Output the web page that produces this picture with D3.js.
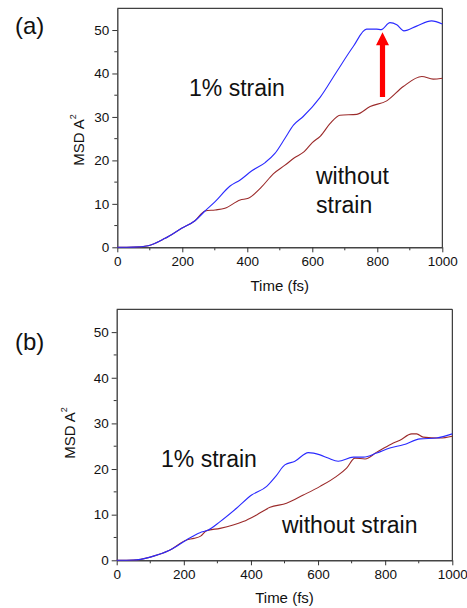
<!DOCTYPE html>
<html>
<head>
<meta charset="utf-8">
<script src="https://cdn.jsdelivr.net/npm/d3@7"></script>
<style>
  body { margin: 0; background: #fff; }
  text { font-family: Arial, "Liberation Sans", sans-serif; fill: #111; }
</style>
</head>
<body>
<svg id="chart" width="467" height="608"></svg>
<script>
// values (time in fs, MSD in A^2)
const aStrainT = [0, 50, 95, 147, 198, 239, 270, 301, 347, 378, 414, 455, 485, 516, 542, 572, 624, 675, 726, 767, 798, 812, 839, 860, 882, 921, 967, 1000]
const aStrainV = [0, 0.05, 0.37, 2.07, 4.37, 6.1, 8.35, 10.5, 14.1, 15.5, 17.6, 19.5, 21.6, 25.1, 28.1, 30.1, 34.5, 40.4, 46.2, 50.2, 50.2, 50.1, 51.7, 51.2, 49.8, 50.9, 52.1, 51.4]

const aPlainT = [0, 50, 95, 147, 198, 239, 270, 301, 331, 378, 403, 444, 480, 516, 545, 575, 600, 625, 655, 685, 737, 778, 829, 880, 937, 972, 1000]
const aPlainV = [0, 0.05, 0.37, 2.07, 4.37, 6.1, 8.35, 8.6, 8.97, 10.9, 11.3, 13.9, 16.9, 18.9, 20.6, 22.0, 24.1, 25.6, 28.5, 30.4, 30.6, 32.4, 33.7, 37.0, 39.3, 38.7, 38.9]

const bStrainT = [0, 50, 100, 159, 208, 248, 273, 308, 357, 402, 447, 475, 501, 531, 571, 606, 630, 660, 705, 735, 775, 814, 854, 904, 953, 1000]
const bStrainV = [0, 0.05, 0.7, 2.26, 4.46, 6.06, 6.65, 8.48, 11.4, 14.3, 16.2, 18.5, 20.9, 21.7, 23.6, 23.1, 22.4, 21.7, 22.6, 22.6, 23.5, 24.6, 25.3, 26.6, 26.8, 27.7]

const bPlainT = [0, 50, 100, 159, 208, 230, 250, 268, 308, 377, 417, 457, 506, 556, 606, 655, 685, 710, 740, 775, 819, 844, 879, 894, 913, 963, 1000]
const bPlainV = [0, 0.05, 0.7, 2.26, 4.46, 4.8, 5.3, 6.5, 7.0, 8.48, 9.95, 11.6, 12.5, 14.3, 16.2, 18.4, 20.2, 22.4, 22.2, 23.7, 25.5, 26.3, 27.7, 27.7, 27.0, 26.8, 27.2]

// red arrow in panel (a): at t = 816 fs, from MSD 34.6 up to 49.5
const arrowT = 816, arrowFrom = 34.6, arrowTo = 49.5

const xTicks = [0, 200, 400, 600, 800, 1000]
const yTicks = [0, 10, 20, 30, 40, 50]
const xDomain = [0, 1000], yDomain = [0, 55]

const zip = (ts, vs) => ts.map((t, i) => ({t, v: vs[i]}))

const svg = d3.select('#chart')

const drawPanel = (box, cfg) => {
    let x = d3.scaleLinear().domain(xDomain).range([box.left, box.right]),
        y = d3.scaleLinear().domain(yDomain).range([box.bottom, box.top])

    let g = svg.append('g')

    // frame top / right
    g.append('path')
        .attr('d', `M${box.left},${box.top}H${box.right}V${box.bottom}`)
        .attr('fill', 'none').attr('stroke', '#111').attr('stroke-width', 1)

    // minor ticks
    g.selectAll('.xminor').data(d3.range(100, 1000, 200)).enter().append('line')
        .attr('x1', d => x(d)).attr('x2', d => x(d))
        .attr('y1', box.bottom).attr('y2', box.bottom + 3)
        .attr('stroke', '#333')
    g.selectAll('.yminor').data(d3.range(5, 55, 10)).enter().append('line')
        .attr('y1', d => y(d)).attr('y2', d => y(d))
        .attr('x1', box.left).attr('x2', box.left - 3)
        .attr('stroke', '#333')

    let xAxis = g.append('g')
        .attr('transform', `translate(0,${box.bottom})`)
        .call(d3.axisBottom(x).tickValues(xTicks).tickFormat(d3.format('d')).tickSize(5).tickPadding(4).tickSizeOuter(0))
    let yAxis = g.append('g')
        .attr('transform', `translate(${box.left},0)`)
        .call(d3.axisLeft(y).tickValues(yTicks).tickFormat(d3.format('d')).tickSize(5).tickPadding(3).tickSizeOuter(0))

    for (let ax of [xAxis, yAxis]) {
        ax.select('.domain').attr('stroke', '#444').attr('stroke-width', 1.4)
        ax.selectAll('.tick line').attr('stroke', '#333')
        ax.selectAll('.tick text')
            .style('font-family', 'Arial, "Liberation Sans", sans-serif')
            .style('font-size', '13.5px').attr('fill', '#111')
    }

    let line = d3.line()
        .curve(d3.curveMonotoneX)
        .x(d => x(d.t))
        .y(d => y(d.v))

    g.append('path').attr('d', line(cfg.plain))
        .attr('fill', 'none').attr('stroke', '#9b2a2a').attr('stroke-width', 1.1)
    g.append('path').attr('d', line(cfg.strain))
        .attr('fill', 'none').attr('stroke', '#2a2aff').attr('stroke-width', 1.1)

    // axis titles
    g.append('text')
        .attr('x', (box.left + box.right) / 2).attr('y', cfg.xTitleY)
        .attr('text-anchor', 'middle').style('font-size', '15px')
        .text('Time (fs)')

    let yt = g.append('text')
        .attr('transform', `translate(${cfg.yTitleX},${cfg.yTitleY}) rotate(-90)`)
        .attr('text-anchor', 'middle').style('font-size', '15px')
    yt.append('tspan').text('MSD A')
    yt.append('tspan').attr('dy', -8).style('font-size', '9px').text('2')

    g.append('text').attr('x', 15).attr('y', cfg.labelY)
        .style('font-size', '24px').text(cfg.label)

    for (let n of cfg.notes) {
        g.append('text').attr('x', n.x).attr('y', n.y)
            .style('font-size', '23px').text(n.text)
    }

    return {x, y, g}
}

let a = drawPanel({left: 117.3, right: 442.3, top: 8.3, bottom: 247.3}, {
    strain: zip(aStrainT, aStrainV),
    plain: zip(aPlainT, aPlainV),
    xTitleY: 291, yTitleX: 84, yTitleY: 140, label: '(a)', labelY: 34,
    notes: [{x: 189, y: 96, text: '1% strain'}, {x: 316, y: 184, text: 'without'}, {x: 316, y: 213, text: 'strain'}]
})

// arrow
let ax0 = a.x(arrowT), ay0 = a.y(arrowFrom), ay1 = a.y(arrowTo)
let headH = 13, headW = 6.5, shaftW = 2.6
a.g.append('path')
    .attr('d', `M${ax0 - shaftW},${ay0} V${ay1 + headH} H${ax0 - headW} L${ax0},${ay1} L${ax0 + headW},${ay1 + headH} H${ax0 + shaftW} V${ay0} Z`)
    .attr('fill', '#ff0000')

drawPanel({left: 116.7, right: 452.3, top: 309.3, bottom: 560.3}, {
    strain: zip(bStrainT, bStrainV),
    plain: zip(bPlainT, bPlainV),
    xTitleY: 603, yTitleX: 75, yTitleY: 433, label: '(b)', labelY: 350,
    notes: [{x: 161, y: 467, text: '1% strain'}, {x: 282, y: 533, text: 'without strain'}]
})
</script>
</body>
</html>
